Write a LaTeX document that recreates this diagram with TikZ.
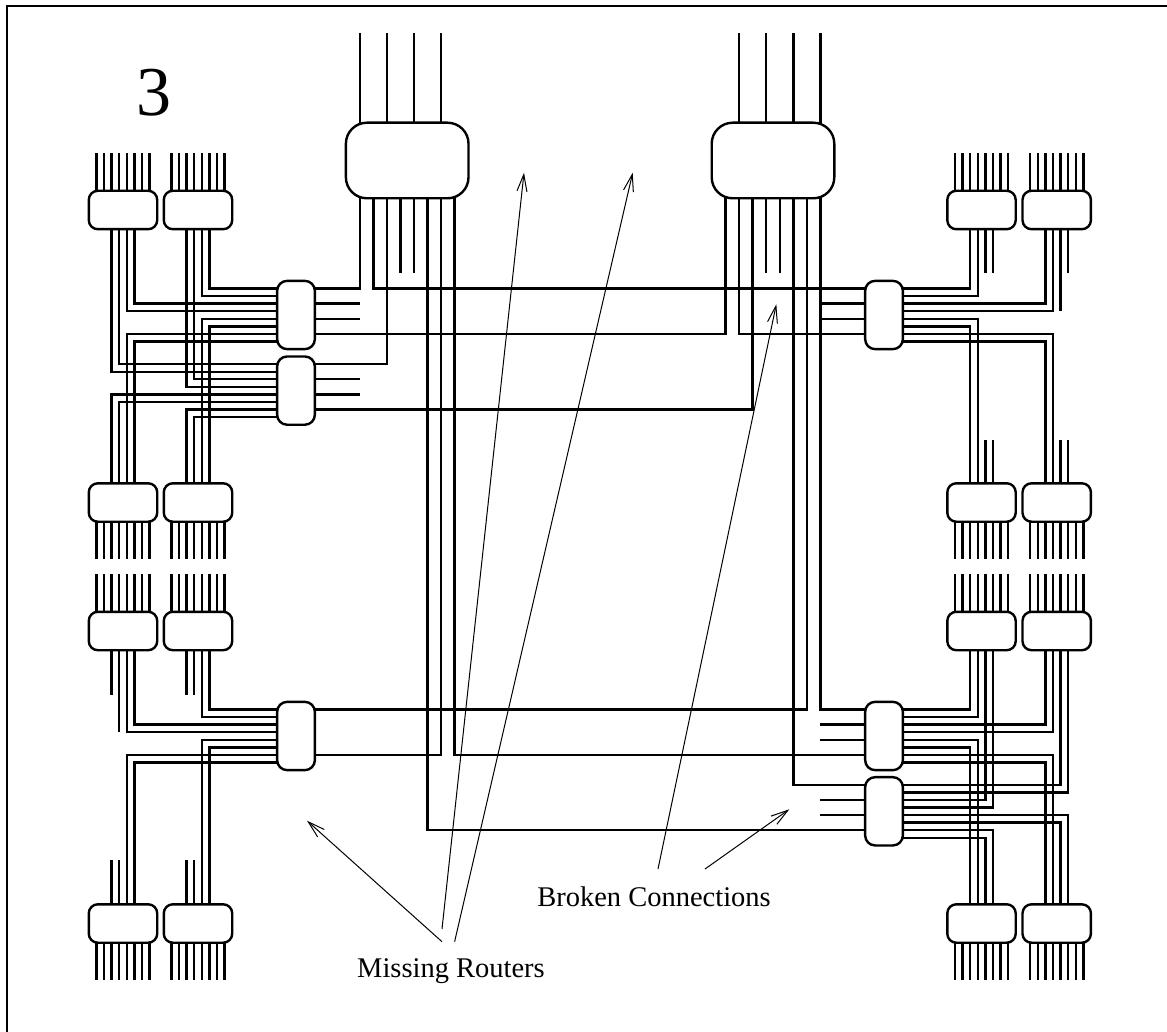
\documentclass[tikz,border=0pt]{standalone}
\usepackage{fontspec}
\setmainfont{Liberation Serif}
\usetikzlibrary{arrows.meta, calc}

\begin{document}
\begin{tikzpicture}[
                x=1pt, y=-1pt,
                font=\fontsize{28.5}{30}\selectfont,
                chip/.style={draw, line width=2.4pt, rounded corners=9pt, inner sep=0pt, outer sep=0pt, minimum width=68.4pt, minimum height=38.4pt},
                router/.style={draw, line width=2.4pt, rounded corners=10pt, inner sep=0pt, outer sep=0pt, minimum width=37.7pt, minimum height=68.3pt},
                hub/.style={draw, line width=2.4pt, rounded corners=21pt, inner sep=0pt, outer sep=0pt, minimum width=122.6pt, minimum height=75.6pt},
                wire/.style={line width=2.4pt},
                frame/.style={line width=2.8pt},
                pointer/.style={line width=1pt, -{Straight Barb[length=17pt, width=10pt]}},
                label/.style={inner sep=0pt}
            ]
                \useasboundingbox (0,0) rectangle (1167,1032);
                \draw[frame] (7,1032) -- (7,6) -- (1167,6);

                % small chips
                \node[chip] (a) at (123,210) {};
                \node[chip] (b) at (198,210) {};
                \node[chip] (c) at (123,502.5) {};
                \node[chip] (d) at (198,502.5) {};
                \node[chip] (e) at (123,631) {};
                \node[chip] (f) at (198,631) {};
                \node[chip] (g) at (123,923.5) {};
                \node[chip] (h) at (198,923.5) {};
                \node[chip] (i) at (981.5,210) {};
                \node[chip] (j) at (1056.7,210) {};
                \node[chip] (k) at (981.5,502.5) {};
                \node[chip] (l) at (1056.7,502.5) {};
                \node[chip] (m) at (981.5,631) {};
                \node[chip] (n) at (1056.7,631) {};
                \node[chip] (o) at (981.5,923.5) {};
                \node[chip] (p) at (1056.7,923.5) {};

                % routers
                \node[router] (r1) at (296,315) {};
                \node[router] (r2) at (296,390.6) {};
                \node[router] (r3) at (296,736) {};
                \node[router] (r4) at (884,315) {};
                \node[router] (r6) at (884,736) {};
                \node[router] (r7) at (884,811.3) {};

                % hubs
                \node[hub] (big1) at (407.2,160.5) {};
                \node[hub] (big2) at (773,160.5) {};

                % pin positions
                \foreach \nd in {a,b,c,d,e,f,g,h,i,j,k,l,m,n,o,p}
                    \foreach \n in {1,...,8} {
                        \coordinate (\nd-t\n) at ([xshift={(\n-4.5)*7.6}]\nd.north);
                        \coordinate (\nd-b\n) at ([xshift={(\n-4.5)*7.6}]\nd.south);
                    }
                \foreach \nd in {r1,r2,r3,r4,r6,r7}
                    \foreach \n in {1,...,8} {
                        \coordinate (\nd-l\n) at ([yshift={(4.5-\n)*7.55}]\nd.west);
                        \coordinate (\nd-r\n) at ([yshift={(4.5-\n)*7.55}]\nd.east);
                    }
                \foreach \nd in {big1,big2}
                    \foreach \n in {1,...,8} {
                        \coordinate (\nd-t\n) at ([xshift={(\n-4.5)*13.55}]\nd.north);
                        \coordinate (\nd-b\n) at ([xshift={(\n-4.5)*13.55}]\nd.south);
                    }

                % free ends
                \coordinate (topedge) at (0,33);
                \coordinate (rowa) at (0,153);
                \coordinate (rowb) at (0,559);
                \coordinate (rowc) at (0,574);
                \coordinate (rowd) at (0,980);
                \coordinate (cuta) at (0,273.3);
                \coordinate (cutb) at (0,311);
                \coordinate (cutc) at (0,440);
                \coordinate (cutd) at (0,694.7);
                \coordinate (cute) at (0,731.7);
                \coordinate (cutf) at (0,860);

                % outer pins
                \foreach \n in {1,...,8} {
                    \foreach \nd in {a,b,i,j} \draw[wire] (\nd-t\n) -- (\nd-t\n |- rowa);
                    \foreach \nd in {c,d,k,l} \draw[wire] (\nd-b\n) -- (\nd-b\n |- rowb);
                    \foreach \nd in {e,f,m,n} \draw[wire] (\nd-t\n) -- (\nd-t\n |- rowc);
                    \foreach \nd in {g,h,o,p} \draw[wire] (\nd-b\n) -- (\nd-b\n |- rowd);
                }
                \foreach \pin in {big1-t1,big1-t3,big1-t5,big1-t7,big2-t2,big2-t4,big2-t6,big2-t8}
                    \draw[wire] (\pin) -- (\pin |- topedge);

                % chips to routers
                \foreach \from/\to in {a-b6/r1-l3, a-b5/r1-l4, a-b4/r2-l1, a-b3/r2-l2,
                        b-b6/r1-l1, b-b5/r1-l2, b-b4/r2-l3, b-b3/r2-l4,
                        c-t6/r1-l8, c-t5/r1-l7, c-t4/r2-l6, c-t3/r2-l5,
                        d-t6/r1-l6, d-t5/r1-l5, d-t4/r2-l8, d-t3/r2-l7,
                        e-b6/r3-l3, e-b5/r3-l4, f-b6/r3-l1, f-b5/r3-l2,
                        g-t6/r3-l8, g-t5/r3-l7, h-t6/r3-l6, h-t5/r3-l5,
                        i-b3/r4-r1, i-b4/r4-r2, j-b3/r4-r3, j-b4/r4-r4,
                        k-t4/r4-r5, k-t3/r4-r6, l-t4/r4-r7, l-t3/r4-r8,
                        m-b3/r6-r1, m-b4/r6-r2, n-b3/r6-r3, n-b4/r6-r4,
                        m-b5/r7-r3, m-b6/r7-r4, n-b5/r7-r1, n-b6/r7-r2,
                        o-t4/r6-r5, o-t3/r6-r6, p-t4/r6-r7, p-t3/r6-r8,
                        o-t5/r7-r8, o-t6/r7-r7, p-t5/r7-r6, p-t6/r7-r5}
                    \draw[wire] (\from) |- (\to);

                % hubs to routers
                \foreach \from/\to in {big1-b1/r1-r1, big1-b2/r4-l1, big1-b3/r2-r1,
                        big1-b6/r7-l7, big1-b7/r3-r7, big1-b8/r6-l7,
                        big2-b1/r1-r7, big2-b2/r4-l7, big2-b3/r2-r7,
                        big2-b6/r7-l1, big2-b7/r3-r1, big2-b8/r6-l1}
                    \draw[wire] (\from) |- (\to);

                % cut pins
                \foreach \pin/\cut in {big1-b4/cuta, big1-b5/cuta, big2-b4/cuta, big2-b5/cuta,
                        i-b5/cuta, i-b6/cuta, j-b5/cutb, j-b6/cuta,
                        k-t5/cutc, k-t6/cutc, l-t5/cutc, l-t6/cutc,
                        e-b3/cutd, e-b4/cute, f-b3/cutd, f-b4/cutd,
                        g-t3/cutf, g-t4/cutf, h-t3/cutf, h-t4/cutf}
                    \draw[wire] (\pin) -- (\pin |- \cut);
                \foreach \pin in {r1-r3, r1-r5, r2-r3, r2-r5}
                    \draw[wire] (\pin) -- (\pin -| big1-b1);
                \foreach \pin in {r4-l3, r4-l5, r6-l3, r6-l5, r7-l3, r7-l5}
                    \draw[wire] (\pin) -- (\pin -| big2-b8);

                % labels and pointers
                \node[label] (three) at (154,93) {\fontsize{70}{72}\selectfont 3};
                \node[label] (missing) at (451,971.5) {Missing Routers};
                \node[label] (broken) at (654,897) {Broken Connections};
                \coordinate (misa) at (442,941.7);
                \coordinate (misb) at (442,929);
                \coordinate (misc) at (454.6,941.7);
                \coordinate (bra) at (658,869);
                \coordinate (brb) at (705,869);
                \coordinate (goneL) at (307,820.7);
                \coordinate (goneA) at (524,172.7);
                \coordinate (goneB) at (632.7,172.7);
                \coordinate (cutA) at (776.3,304.3);
                \coordinate (cutB) at (789.3,809.3);
                \draw[pointer] (misa) -- (goneL);
                \draw[pointer] (misb) -- (goneA);
                \draw[pointer] (misc) -- (goneB);
                \draw[pointer] (bra) -- (cutA);
                \draw[pointer] (brb) -- (cutB);
            \end{tikzpicture}
\end{document}
